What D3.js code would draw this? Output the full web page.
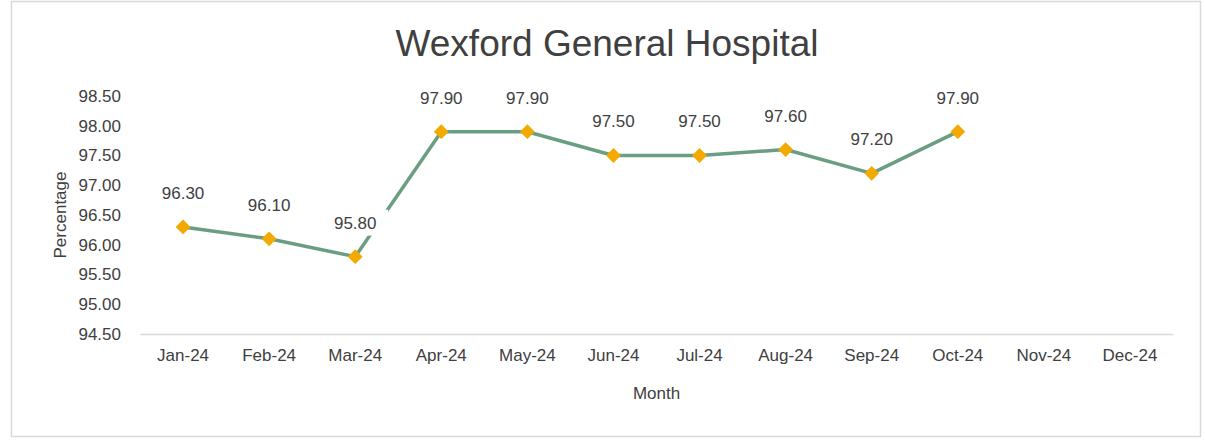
<!DOCTYPE html>
<html>
<head>
<meta charset="utf-8">
<script src="https://cdn.jsdelivr.net/npm/d3@7"></script>
<style>
  body { margin: 0; background: #fff; }
  svg { display: block; font-family: "Liberation Sans", Arial, sans-serif; }
</style>
</head>
<body>
<div id="chart"></div>
<script>
(function() {
  var months = ["Jan-24", "Feb-24", "Mar-24", "Apr-24", "May-24", "Jun-24",
                "Jul-24", "Aug-24", "Sep-24", "Oct-24", "Nov-24", "Dec-24"];
  var values = [96.30, 96.10, 95.80, 97.90, 97.90, 97.50, 97.50, 97.60, 97.20, 97.90, null, null];
  var yTicks = [94.5, 95.0, 95.5, 96.0, 96.5, 97.0, 97.5, 98.0, 98.5];

  var width = 1205, height = 442;
  var margin = { top: 96, right: 32, bottom: 108, left: 140 };
  var textColor = "#404040";
  var fontSize = "17px";

  var svg = d3.select("#chart").append("svg")
    .attr("width", width).attr("height", height);

  // chart area border
  svg.append("rect")
    .attr("x", 11.5).attr("y", 1.5)
    .attr("width", 1189).attr("height", 435)
    .style("fill", "#fff").style("stroke", "#d9d9d9").style("stroke-width", 1.5);

  var x = d3.scaleBand().domain(months).range([margin.left, width - margin.right]);
  var y = d3.scaleLinear().domain([94.5, 98.5]).range([height - margin.bottom, margin.top]);

  var data = months.map(function(m, i) { return { m: m, v: values[i] }; });
  var pts = data.filter(function(d) { return d.v !== null; });

  // x axis
  var xAxis = d3.axisBottom(x).tickSize(0).tickPadding(15);
  var gx = svg.append("g")
    .attr("transform", "translate(0," + y(94.5) + ")")
    .call(xAxis);
  gx.select(".domain").style("stroke", "#d9d9d9").style("stroke-width", 1.5);
  gx.selectAll("text").style("font-size", fontSize).style("fill", textColor);

  // y axis, labels only
  var yAxis = d3.axisLeft(y).tickValues(yTicks).tickSize(0).tickPadding(19)
    .tickFormat(d3.format(".2f"));
  var gy = svg.append("g")
    .attr("transform", "translate(" + margin.left + ",0)")
    .call(yAxis);
  gy.select(".domain").remove();
  gy.selectAll("text").style("font-size", fontSize).style("fill", textColor);

  // line
  var line = d3.line()
    .defined(function(d) { return d.v !== null; })
    .x(function(d) { return x(d.m) + x.bandwidth() / 2; })
    .y(function(d) { return y(d.v); });

  svg.append("path")
    .datum(data)
    .attr("d", line)
    .style("fill", "none")
    .style("stroke", "#6a9e82")
    .style("stroke-width", 3.5)
    .style("stroke-linejoin", "round");

  // markers
  svg.selectAll(".marker")
    .data(pts).enter().append("path")
    .attr("class", "marker")
    .attr("d", d3.symbol().type(d3.symbolDiamond2).size(140))
    .attr("transform", function(d) {
      return "translate(" + (x(d.m) + x.bandwidth() / 2) + "," + y(d.v) + ")";
    })
    .style("fill", "#f2a900");

  // data labels, with white box like the original
  var labels = svg.selectAll(".dlabel")
    .data(pts).enter().append("g")
    .attr("class", "dlabel")
    .attr("transform", function(d) {
      return "translate(" + (x(d.m) + x.bandwidth() / 2) + "," + (y(d.v) - 34) + ")";
    });
  labels.append("rect")
    .attr("x", -33).attr("y", -13).attr("width", 66).attr("height", 26)
    .style("fill", "#fff");
  labels.append("text")
    .attr("text-anchor", "middle").attr("dy", "0.35em")
    .style("font-size", fontSize).style("fill", textColor)
    .text(function(d) { return d3.format(".2f")(d.v); });

  // title
  svg.append("text")
    .attr("x", 607).attr("y", 43).attr("dy", "0.35em")
    .attr("text-anchor", "middle")
    .style("font-size", "37px").style("fill", textColor)
    .text("Wexford General Hospital");

  // axis titles
  svg.append("text")
    .attr("x", (margin.left + width - margin.right) / 2).attr("y", 393).attr("dy", "0.35em")
    .attr("text-anchor", "middle")
    .style("font-size", fontSize).style("fill", textColor)
    .text("Month");

  svg.append("text")
    .attr("transform", "translate(60," + ((y(94.5) + y(98.5)) / 2) + ") rotate(-90)")
    .attr("dy", "0.35em")
    .attr("text-anchor", "middle")
    .style("font-size", fontSize).style("fill", textColor)
    .text("Percentage");
}).call(this);
</script>
</body>
</html>
